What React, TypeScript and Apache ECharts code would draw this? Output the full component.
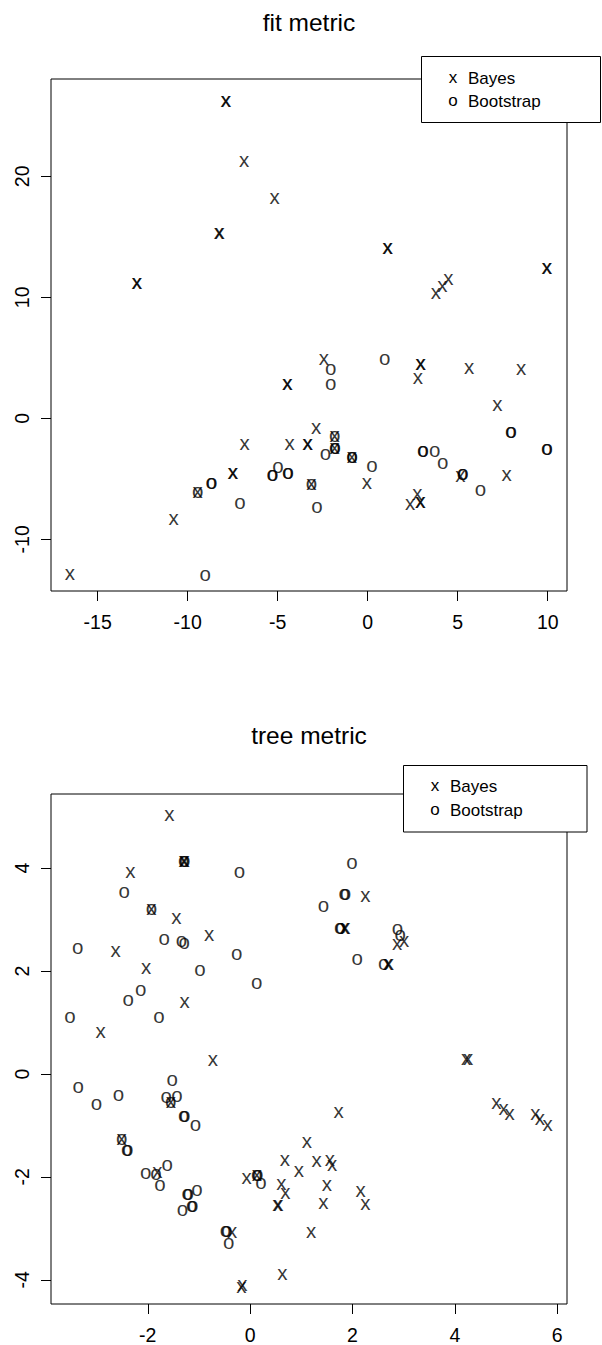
import React, { useEffect, useRef } from "react";
import * as echarts from "echarts";

const FONT = "'Liberation Sans', Arial, Helvetica, sans-serif";

// ---- panel 1: "fit metric" ----
const fitTitle = "fit metric";
const fitXTicks = [-15, -10, -5, 0, 5, 10];
const fitYTicks = [-10, 0, 10, 20];
const fitXRange = [-17.59, 11.07];
const fitYRange = [-14.27, 28.04];
const fitBayes: number[][] = [
  [-7.89, 26.2], [-7.86, 26.2], [-6.87, 21.3], [-5.17, 18.2], [-8.26, 15.3], [-8.23, 15.3],
  [-12.83, 11.2], [-12.8, 11.2], [1.09, 14.1], [1.12, 14.1], [3.79, 10.33], [4.15, 10.9],
  [4.48, 11.5], [9.94, 12.4], [9.97, 12.4], [-16.54, -12.87], [-10.78, -8.3], [-9.44, -6.07],
  [-7.5, -4.5], [-7.47, -4.5], [-6.83, -2.12], [-4.48, 2.81], [-4.45, 2.81], [-4.33, -2.12],
  [-3.35, -2.15], [-3.32, -2.15], [-3.13, -5.4], [-2.87, -0.78], [-2.43, 4.88], [-1.83, -1.46],
  [-1.83, -2.42], [-0.88, -3.17], [-0.04, -5.32], [2.92, 4.49], [2.95, 4.49], [2.79, 3.31],
  [5.63, 4.18], [8.52, 4.05], [7.2, 1.1], [5.15, -4.74], [7.72, -4.66], [2.35, -7.11],
  [2.76, -6.26], [2.91, -6.89], [2.94, -6.89],
];
const fitBootstrap: number[][] = [
  [-9.02, -12.92], [-9.44, -6.07], [-8.69, -5.35], [-8.66, -5.35], [-7.09, -7.0], [-5.3, -4.65],
  [-5.27, -4.65], [-4.99, -4.0], [-4.44, -4.5], [-4.41, -4.5], [-3.13, -5.4], [-2.82, -7.3],
  [-2.34, -2.92], [-2.05, 4.05], [-2.05, 2.86], [-1.83, -1.46], [-1.83, -2.42], [-1.81, -2.42],
  [-0.88, -3.17], [-0.86, -3.17], [0.23, -3.93], [0.94, 4.9], [3.05, -2.67], [3.08, -2.67],
  [3.72, -2.67], [4.17, -3.67], [5.26, -4.6], [5.29, -4.6], [6.26, -5.93], [7.94, -1.1],
  [7.97, -1.1], [9.94, -2.51], [9.97, -2.51],
];

// ---- panel 2: "tree metric" ----
const treeTitle = "tree metric";
const treeXTicks = [-2, 0, 2, 4, 6];
const treeYTicks = [-4, -2, 0, 2, 4];
const treeXRange = [-3.89, 6.19];
const treeYRange = [-4.47, 5.44];
const treeBayes: number[][] = [
  [-1.58, 5.03], [-1.3, 4.13], [-1.28, 4.14], [-2.34, 3.93], [-1.93, 3.21], [-1.44, 3.04],
  [-0.8, 2.7], [-2.63, 2.39], [-2.03, 2.06], [-1.28, 1.4], [-2.92, 0.82], [-0.73, 0.28],
  [-1.55, -0.54], [-2.51, -1.27], [-1.81, -1.9], [-0.35, -3.08], [-0.17, -4.13], [-0.15, -4.1],
  [-0.07, -2.02], [0.13, -1.97], [0.63, -3.89], [0.61, -2.13], [0.69, -2.32], [0.53, -2.54],
  [0.55, -2.54], [0.68, -1.68], [0.95, -1.88], [1.11, -1.32], [1.3, -1.7], [1.56, -1.68],
  [1.6, -1.77], [1.5, -2.16], [1.43, -2.5], [1.19, -3.08], [1.73, -0.74], [2.16, -2.28],
  [2.25, -2.53], [4.22, 0.29], [4.26, 0.29], [4.81, -0.57], [4.95, -0.68], [5.07, -0.77],
  [5.57, -0.77], [5.66, -0.88], [5.81, -1.0], [2.25, 3.45], [1.84, 2.84], [1.86, 2.84],
  [2.87, 2.52], [3.01, 2.58], [2.69, 2.13], [2.71, 2.13],
];
const treeBootstrap: number[][] = [
  [-1.3, 4.13], [-1.28, 4.13], [-0.21, 3.92], [-2.46, 3.53], [-1.93, 3.21], [-1.68, 2.63],
  [-1.34, 2.58], [-1.29, 2.54], [-3.37, 2.44], [-0.26, 2.34], [-0.98, 2.02], [0.13, 1.76],
  [-2.14, 1.63], [-2.38, 1.43], [-3.52, 1.11], [-1.78, 1.11], [-3.36, -0.25], [-3.0, -0.58],
  [-2.57, -0.4], [-1.52, -0.12], [-1.64, -0.44], [-1.55, -0.54], [-1.43, -0.42], [-1.3, -0.81],
  [-1.28, -0.81], [-1.07, -0.99], [-2.51, -1.27], [-2.41, -1.48], [-2.39, -1.48], [-2.04, -1.92],
  [-1.84, -1.95], [-1.62, -1.76], [-1.76, -2.16], [-1.04, -2.26], [-1.23, -2.34], [-1.21, -2.34],
  [-1.14, -2.57], [-1.12, -2.57], [-1.32, -2.65], [-0.48, -3.05], [-0.46, -3.05], [-0.42, -3.29],
  [0.13, -1.97], [0.15, -1.97], [0.21, -2.11], [1.99, 4.1], [1.84, 3.5], [1.86, 3.5],
  [1.43, 3.27], [1.75, 2.84], [1.77, 2.84], [2.88, 2.81], [2.93, 2.7], [2.09, 2.23], [2.61, 2.13],
];

const legendLabels = ["Bayes", "Bootstrap"];
const legendSymbols = ["x", "o"];

const TICK_FONT = 19.5;
const PCH_FONT = 20.5;

function makeAxis(gridIndex: number, range: number[], ticks: number[], isY: boolean) {
  return {
    type: "value",
    gridIndex,
    min: range[0],
    max: range[1],
    splitLine: { show: false },
    axisLine: { show: false, onZero: false },
    axisTick: {
      show: true,
      length: 10,
      customValues: ticks,
      lineStyle: { color: "#000", width: 1 },
    },
    axisLabel: {
      show: true,
      customValues: ticks,
      color: "#000",
      fontSize: TICK_FONT,
      fontFamily: FONT,
      margin: isY ? 19 : 21,
      rotate: isY ? 90 : 0,
    },
  };
}

function pchSeries(data: number[][], ch: string, idx: number) {
  return {
    type: "scatter",
    xAxisIndex: idx,
    yAxisIndex: idx,
    data,
    symbol: "circle",
    symbolSize: 0.1,
    itemStyle: { color: "rgba(0,0,0,0)" },
    silent: true,
    emphasis: { disabled: true },
    label: {
      show: true,
      position: "inside",
      formatter: ch,
      color: "#000",
      fontSize: PCH_FONT,
      fontFamily: FONT,
      offset: [0, -1.5],
    },
  };
}

function legendGraphic(x: number, y: number, w: number, h: number, symX: number, textX: number, y1: number, y2: number) {
  const ys = [y1, y2];
  const items: any[] = [
    {
      type: "rect",
      shape: { x, y, width: w, height: h },
      style: { fill: "#fff", stroke: "#000", lineWidth: 1 },
      z: 100,
    },
  ];
  legendLabels.forEach((lab, i) => {
    items.push({
      type: "text",
      x: symX,
      y: ys[i] - 1,
      z: 101,
      style: {
        text: legendSymbols[i],
        fill: "#000",
        font: `17px ${FONT}`,
        textAlign: "center",
        textVerticalAlign: "middle",
      },
    });
    items.push({
      type: "text",
      x: textX,
      y: ys[i],
      z: 101,
      style: {
        text: lab,
        fill: "#000",
        font: `17px ${FONT}`,
        textAlign: "left",
        textVerticalAlign: "middle",
      },
    });
  });
  return items;
}

export default function App() {
  const ref = useRef<HTMLDivElement>(null);
  useEffect(() => {
    if (!ref.current) return;
    const chart = echarts.init(ref.current, undefined, { renderer: "svg" });
    chart.setOption({
      animation: false,
      backgroundColor: "#fff",
      grid: [
        { left: 51, top: 79, width: 516, height: 512, show: true, borderColor: "#000", borderWidth: 1, backgroundColor: "transparent" },
        { left: 51, top: 794, width: 516, height: 512, show: true, borderColor: "#000", borderWidth: 1, backgroundColor: "transparent" },
      ],
      xAxis: [makeAxis(0, fitXRange, fitXTicks, false), makeAxis(1, treeXRange, treeXTicks, false)],
      yAxis: [makeAxis(0, fitYRange, fitYTicks, true), makeAxis(1, treeYRange, treeYTicks, true)],
      series: [
        pchSeries(fitBayes, "x", 0),
        pchSeries(fitBootstrap, "o", 0),
        pchSeries(treeBayes, "x", 1),
        pchSeries(treeBootstrap, "o", 1),
      ],
      graphic: [
        {
          type: "text",
          x: 309,
          y: 22,
          style: { text: fitTitle, fill: "#000", font: `24.5px ${FONT}`, textAlign: "center", textVerticalAlign: "middle" },
        },
        {
          type: "text",
          x: 309,
          y: 735,
          style: { text: treeTitle, fill: "#000", font: `24.5px ${FONT}`, textAlign: "center", textVerticalAlign: "middle" },
        },
        ...legendGraphic(421.5, 56.5, 179, 66, 453, 468, 78, 101),
        ...legendGraphic(403.5, 765.5, 183.5, 66.5, 435, 450, 786.5, 810),
      ],
    });
    return () => chart.dispose();
  }, []);
  return (
    <div
      ref={ref}
      style={{ position: "absolute", left: 0, top: 0, width: 602, height: 1345 }}
    />
  );
}
